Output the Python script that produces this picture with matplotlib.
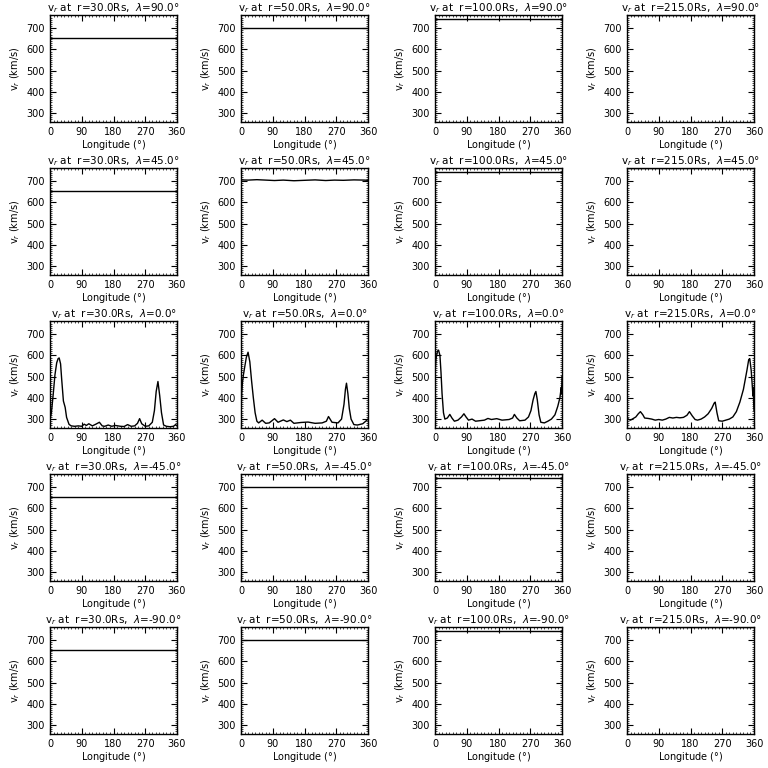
import numpy as np
import matplotlib
matplotlib.use("Agg")
import matplotlib.pyplot as plt
from matplotlib.ticker import MultipleLocator

radii = [30.0, 50.0, 100.0, 215.0]
lats = [90.0, 45.0, 0.0, -45.0, -90.0]

# high-latitude speeds (flat lines), one per radius
v_flat = [652, 703, 741, 760]

# r=50, lat=+45 has small ripples
lon_50_45 = [0, 20, 45, 70, 95, 120, 150, 180, 210, 240, 265, 290, 320, 350, 360]
v_50_45 = [706, 705, 707, 705, 703, 705, 702, 704, 706, 703, 705, 704, 706, 705, 704]

# equatorial profiles
lon_eq_30 = [0, 4, 9, 14, 19, 23, 26, 30, 33, 38, 43, 47, 54, 60, 70, 80, 90, 97, 103, 110,
             120, 130, 140, 148, 155, 165, 175, 185, 200, 210, 220, 230, 240, 248, 254, 260,
             270, 280, 290, 296, 301, 306, 311, 316, 322, 330, 340, 350, 356, 360]
v_eq_30 = [300, 330, 415, 508, 565, 585, 588, 560, 490, 385, 355, 308, 275, 268, 266, 268, 266, 276, 270, 278,
           268, 276, 285, 268, 266, 272, 266, 270, 266, 265, 274, 266, 268, 280, 302, 278,
           266, 268, 285, 340, 430, 477, 410, 330, 272, 266, 264, 266, 274, 268]

lon_eq_50 = [0, 2, 4, 7, 11, 15, 20, 25, 30, 35, 40, 45, 50, 60, 70, 80, 95, 105, 120, 130,
             140, 150, 170, 190, 210, 230, 242, 248, 258, 275, 285, 292, 296, 299, 303, 307,
             312, 320, 330, 345, 355, 360]
v_eq_50 = [340, 420, 470, 510, 550, 590, 615, 570, 480, 400, 330, 290, 282, 295, 280, 282, 302, 285, 296, 288,
           295, 280, 284, 286, 280, 282, 290, 312, 285, 282, 300, 370, 440, 469, 420, 350,
           300, 274, 272, 278, 292, 300]

lon_eq_100 = [0, 3, 7, 10, 14, 17, 20, 24, 28, 35, 42, 48, 55, 65, 75, 82, 88, 95, 105, 115,
              125, 140, 150, 160, 175, 190, 210, 220, 225, 232, 240, 255, 265, 272, 278, 283,
              286, 290, 295, 300, 310, 320, 330, 340, 348, 354, 358, 359, 360]
v_eq_100 = [520, 585, 620, 625, 600, 520, 420, 330, 300, 305, 322, 305, 290, 295, 310, 325, 310, 295, 300, 290,
            292, 295, 303, 298, 302, 295, 298, 305, 322, 305, 292, 295, 310, 340, 390, 420,
            430, 390, 320, 285, 282, 290, 300, 320, 360, 400, 450, 420, 500]

lon_eq_215 = [0, 5, 10, 15, 25, 32, 38, 45, 50, 60, 70, 80, 90, 100, 110, 120, 130, 140, 150, 160,
              170, 177, 185, 193, 200, 210, 220, 230, 240, 247, 250, 255, 260, 270, 280, 290,
              300, 310, 320, 330, 340, 345, 348, 352, 355, 357, 358, 359, 360]
v_eq_215 = [305, 298, 295, 300, 310, 325, 335, 320, 305, 303, 300, 295, 298, 295, 300, 308, 305, 308, 306, 308,
            318, 335, 315, 298, 295, 300, 310, 325, 350, 375, 380, 330, 292, 290, 295, 300,
            310, 335, 380, 440, 530, 580, 585, 530, 460, 410, 450, 380, 340]

eq_lon = [lon_eq_30, lon_eq_50, lon_eq_100, lon_eq_215]
eq_v = [v_eq_30, v_eq_50, v_eq_100, v_eq_215]

plt.rcParams['font.family'] = 'DejaVu Sans'
fig = plt.figure(figsize=(7.68, 7.68), dpi=100)
W, H = 768.0, 768.0

col_left = [50, 241, 435, 627]
row_top = [15, 168, 321, 474, 627]
ax_w, ax_h = 127, 107

for i, lat in enumerate(lats):
    for j, r in enumerate(radii):
        ax = fig.add_axes([col_left[j] / W, 1 - (row_top[i] + ax_h) / H, ax_w / W, ax_h / H])
        if lat == 0.0:
            ax.plot(eq_lon[j], eq_v[j], color='black', lw=1.0)
        elif lat == 45.0 and r == 50.0:
            ax.plot(lon_50_45, v_50_45, color='black', lw=1.0)
        else:
            ax.plot([0, 360], [v_flat[j], v_flat[j]], color='black', lw=1.0)

        ax.set_xlim(0, 360)
        ax.set_ylim(258, 762)
        ax.xaxis.set_major_locator(MultipleLocator(90))
        ax.xaxis.set_minor_locator(MultipleLocator(10))
        ax.yaxis.set_major_locator(MultipleLocator(100))
        ax.yaxis.set_minor_locator(MultipleLocator(10))
        ax.tick_params(which='both', direction='in', top=True, right=True, labelsize=7)
        ax.tick_params(which='major', length=4, width=0.8)
        ax.tick_params(which='minor', length=1.5, width=0.5)
        for s in ax.spines.values():
            s.set_linewidth(1.0)
        ax.set_title(r'v$_r$ at  r=%.1fRs,  $\lambda$=%.1f$\degree$' % (r, lat), fontsize=7.5, pad=2)
        ax.set_xlabel(r'Longitude ($\degree$)', fontsize=7, labelpad=1)
        ax.set_ylabel(r'v$_r$ (km/s)', fontsize=7, labelpad=3)

fig.savefig('out.png', dpi=100)
